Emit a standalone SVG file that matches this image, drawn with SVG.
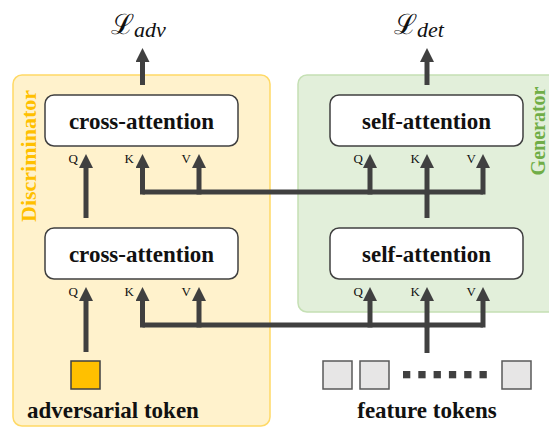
<svg xmlns="http://www.w3.org/2000/svg" width="549" height="428" viewBox="0 0 549 428">
  <style>
    .box { fill: #ffffff; stroke: #404040; stroke-width: 1.5; }
    .title { font-family: "Liberation Serif", "Times New Roman", serif; font-weight: bold; font-size: 23px; fill: #111111; text-anchor: middle; }
    .port { font-family: "Liberation Serif", "Times New Roman", serif; font-size: 13px; fill: #111111; text-anchor: end; }
    .wire { fill: none; stroke: #404040; stroke-width: 5; }
    .arrow { fill: none; stroke: #404040; stroke-width: 5; marker-end: url(#head); }
    .tok { fill: #e7e6e6; stroke: #595959; stroke-width: 1.5; }
    .dot { fill: #404040; }
    .loss { font-family: "DejaVu Serif", serif; font-size: 28px; fill: #111111; }
    .sub { font-family: "Liberation Serif", "Times New Roman", serif; font-style: italic; font-size: 22px; }
  </style>
  <defs>
    <marker id="head" markerUnits="userSpaceOnUse" markerWidth="14" markerHeight="14" viewBox="0 0 14 14" refX="1" refY="7" orient="auto">
      <path d="M0,0 L14,7 L0,14 z" fill="#404040"/>
    </marker>
  </defs>

  <rect width="549" height="428" fill="#ffffff"/>

  <!-- panels -->
  <g id="discriminator">
    <rect x="13" y="75" width="257" height="351" rx="9" fill="#fff2cc" stroke="#ffd966" stroke-width="1.5"/>
    <text transform="translate(36,156) rotate(-90)" font-family="Liberation Serif, Times New Roman, serif" font-weight="bold" font-size="22" fill="#ffc000" text-anchor="middle">Discriminator</text>
  </g>
  <g id="generator">
    <rect x="298" y="75" width="270" height="237" rx="9" fill="#e2efda" stroke="#c5e0b4" stroke-width="1.5"/>
    <text transform="translate(545,131) rotate(-90)" font-family="Liberation Serif, Times New Roman, serif" font-weight="bold" font-size="20" fill="#70ad47" text-anchor="middle">Generator</text>
  </g>

  <!-- losses -->
  <g id="loss-adv">
    <text x="111" y="34" class="loss">ℒ<tspan class="sub" dy="3">adv</tspan></text>
  </g>
  <g id="loss-det">
    <text x="394" y="34" class="loss">ℒ<tspan class="sub" dy="3">det</tspan></text>
  </g>

  <!-- attention blocks -->
  <g id="cross-attn-top">
    <rect class="box" x="45" y="95" width="193" height="51" rx="9"/>
    <text class="title" x="141.5" y="129">cross-attention</text>
    <text class="port" x="78" y="163">Q</text>
    <text class="port" x="134" y="163">K</text>
    <text class="port" x="191" y="163">V</text>
  </g>
  <g id="self-attn-top">
    <rect class="box" x="330" y="95" width="193" height="51" rx="9"/>
    <text class="title" x="426.5" y="129">self-attention</text>
    <text class="port" x="363" y="163">Q</text>
    <text class="port" x="420" y="163">K</text>
    <text class="port" x="476" y="163">V</text>
  </g>
  <g id="cross-attn-bottom">
    <rect class="box" x="45" y="228" width="193" height="51" rx="9"/>
    <text class="title" x="141.5" y="262">cross-attention</text>
    <text class="port" x="78" y="296">Q</text>
    <text class="port" x="134" y="296">K</text>
    <text class="port" x="191" y="296">V</text>
  </g>
  <g id="self-attn-bottom">
    <rect class="box" x="330" y="228" width="193" height="51" rx="9"/>
    <text class="title" x="426.5" y="262">self-attention</text>
    <text class="port" x="363" y="296">Q</text>
    <text class="port" x="420" y="296">K</text>
    <text class="port" x="476" y="296">V</text>
  </g>

  <!-- tokens -->
  <g id="adversarial-token">
    <rect x="71" y="361" width="29" height="28" fill="#ffc000" stroke="#404040" stroke-width="1.5"/>
    <text class="title" x="113" y="418">adversarial token</text>
  </g>
  <g id="feature-tokens">
    <rect class="tok" x="323" y="361" width="29" height="28"/>
    <rect class="tok" x="360" y="361" width="29" height="28"/>
    <rect class="dot" x="403" y="371" width="7.3" height="7.3"/>
    <rect class="dot" x="418.3" y="371" width="7.3" height="7.3"/>
    <rect class="dot" x="433.6" y="371" width="7.3" height="7.3"/>
    <rect class="dot" x="448.9" y="371" width="7.3" height="7.3"/>
    <rect class="dot" x="464.2" y="371" width="7.3" height="7.3"/>
    <rect class="dot" x="479.5" y="371" width="7.3" height="7.3"/>
    <rect class="tok" x="502" y="361" width="29" height="28"/>
    <text class="title" x="427" y="418">feature tokens</text>
  </g>

  <!-- connectors -->
  <g id="connectors">
    <!-- outputs to losses -->
    <path class="arrow" d="M142.5,85 V61"/>
    <path class="arrow" d="M427,85 V61"/>

    <!-- upper layer inputs -->
    <path class="arrow" d="M86,218 V167"/>
    <path class="wire" d="M142.5,192 H483"/>
    <path class="wire" d="M427,218 V192"/>
    <path class="arrow" d="M142.5,194.5 V167"/>
    <path class="arrow" d="M199,194.5 V167"/>
    <path class="arrow" d="M370,194.5 V167"/>
    <path class="arrow" d="M427,194.5 V167"/>
    <path class="arrow" d="M483,194.5 V167"/>

    <!-- lower layer inputs -->
    <path class="arrow" d="M86,352 V300"/>
    <path class="wire" d="M142.5,325 H483"/>
    <path class="wire" d="M427,353 V325"/>
    <path class="arrow" d="M142.5,327.5 V300"/>
    <path class="arrow" d="M199,327.5 V300"/>
    <path class="arrow" d="M370,327.5 V300"/>
    <path class="arrow" d="M427,327.5 V300"/>
    <path class="arrow" d="M483,327.5 V300"/>
  </g>
</svg>
